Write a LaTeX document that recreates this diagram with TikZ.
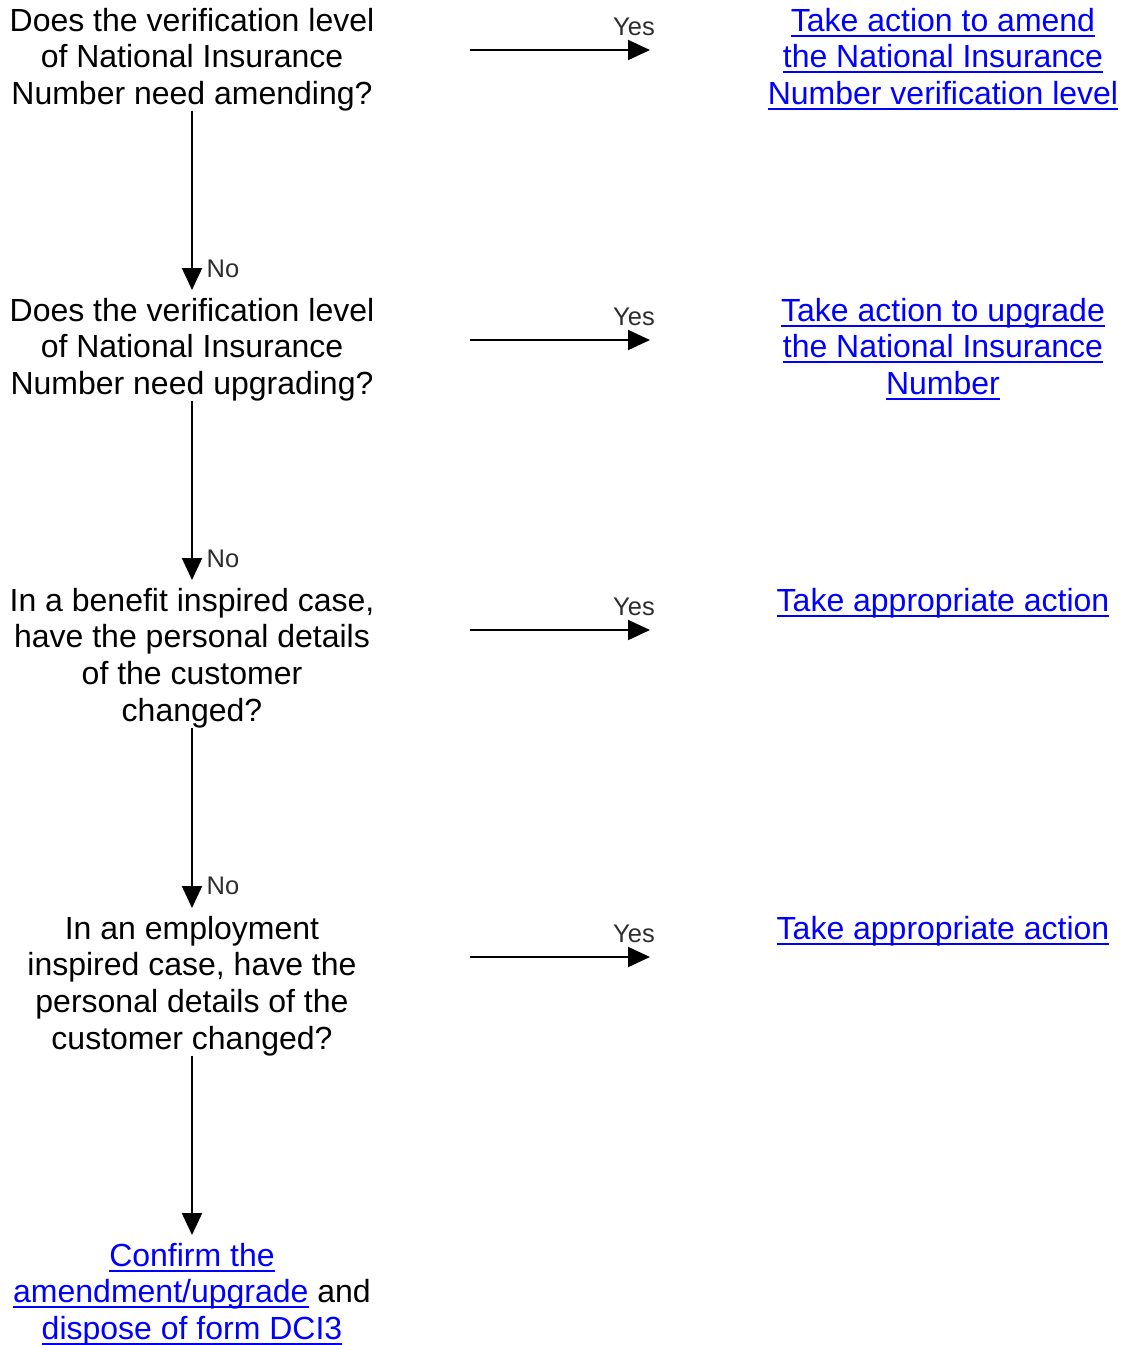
\documentclass[tikz,border=0pt]{standalone}
\usepackage{fontspec}
\setmainfont{Liberation Sans}
\usetikzlibrary{arrows.meta}
\definecolor{linkblue}{RGB}{0,0,255}
\definecolor{lblgray}{RGB}{45,45,45}
\newcommand{\lk}[1]{\textcolor{linkblue}{\setbox0\hbox{#1}\rlap{\rule[-5.5pt]{\wd0}{2pt}}\box0}}
\newcommand{\fs}{\rule{0pt}{26pt}}
\begin{document}
\begin{tikzpicture}[x=1pt,y=-1pt,
  txt/.style={font=\fontsize{32}{36.6}\selectfont, align=center, inner sep=0pt, anchor=north},
  flow/.style={line width=2pt, -{Triangle[length=22pt,width=20pt]}},
  lbl/.style={font=\fontsize{25.5}{28}\selectfont, text=lblgray, inner sep=0pt}]
\useasboundingbox (0,0) rectangle (1125,1345);

% questions
\node[txt] (q1) at (192,5) {\fs Does the verification level\\of National Insurance\\Number need amending?};
\node[txt] (q2) at (192,295) {\fs Does the verification level\\of National Insurance\\Number need upgrading?};
\node[txt] (q3) at (192,585) {\fs In a benefit inspired case,\\have the personal details\\of the customer\\changed?};
\node[txt] (q4) at (192,913) {\fs In an employment\\inspired case, have the\\personal details of the\\customer changed?};
\node[txt] (fin) at (192,1240) {\fs\lk{Confirm the}\\\lk{amendment/upgrade} and\\\lk{dispose of form DCI3}};

% answers
\node[txt] (a1) at (943,5) {\fs\lk{Take action to amend}\\\lk{the National Insurance}\\\lk{Number verification level}};
\node[txt] (a2) at (943,295) {\fs\lk{Take action to upgrade}\\\lk{the National Insurance}\\\lk{Number}};
\node[txt] (a3) at (943,585) {\fs\lk{Take appropriate action}};
\node[txt] (a4) at (943,913) {\fs\lk{Take appropriate action}};

% vertical connectors
\draw[flow, shorten >=5pt] (q1.south) -- (q2.north);
\draw[flow, shorten >=5pt] (q2.south) -- (q3.north);
\draw[flow, shorten >=5pt] (q3.south) -- (q4.north);
\draw[flow, shorten >=5pt] (q4.south) -- (fin.north);
\node[lbl] (no1) at (223,269) {No};
\node[lbl] (no2) at (223,559) {No};
\node[lbl] (no3) at (223,886) {No};

% horizontal connectors
\coordinate (h1a) at (470,50);  \coordinate (h1b) at (650,50);
\coordinate (h2a) at (470,340); \coordinate (h2b) at (650,340);
\coordinate (h3a) at (470,630); \coordinate (h3b) at (650,630);
\coordinate (h4a) at (470,957); \coordinate (h4b) at (650,957);
\draw[flow] (h1a) -- (h1b);
\draw[flow] (h2a) -- (h2b);
\draw[flow] (h3a) -- (h3b);
\draw[flow] (h4a) -- (h4b);
\node[lbl] (y1) at (634,27) {Yes};
\node[lbl] (y2) at (634,317) {Yes};
\node[lbl] (y3) at (634,607) {Yes};
\node[lbl] (y4) at (634,934) {Yes};
\end{tikzpicture}
\end{document}
